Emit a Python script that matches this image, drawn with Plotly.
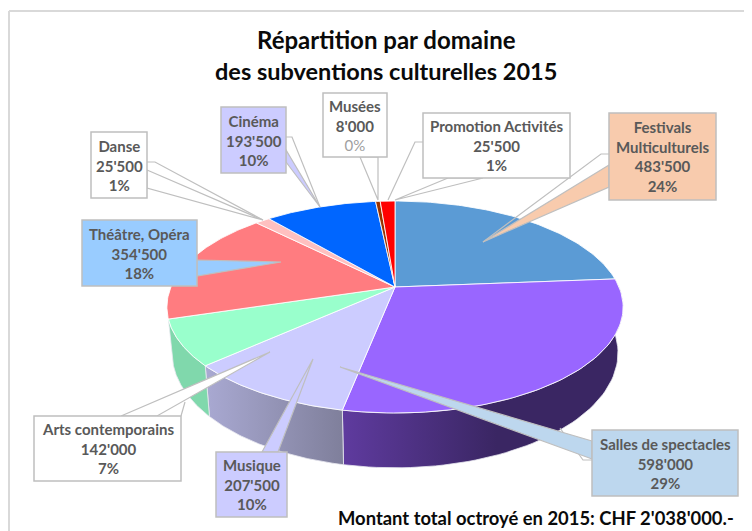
import numpy as np
import plotly.graph_objects as go

# ---- data ----
categories = ["Festivals<br>Multiculturels", "Salles de spectacles", "Musique", "Arts contemporains",
              "Théâtre, Opéra", "Danse", "Cinéma", "Musées", "Promotion Activités"]
values = [483500, 598000, 207500, 142000, 354500, 25500, 193500, 8000, 25500]
value_labels = ["483'500", "598'000", "207'500", "142'000", "354'500", "25'500", "193'500", "8'000", "25'500"]
percent_labels = ["24%", "29%", "10%", "7%", "18%", "1%", "10%", "0%", "1%"]
title_lines = ["Répartition par domaine", "des subventions culturelles 2015"]
footer = "Montant total octroyé en 2015: CHF 2'038'000.-"

# ---- styles ----
top_colors = ["#5b9bd5", "#9966ff", "#ccccff", "#99ffcc", "#ff7c80", "#ffc0c0", "#0066ff", "#993300", "#ff0000"]
side_scales = {1: [[0, "#5f3b9f"], [0.55, "#3a2663"], [1, "#3a2663"]],
               2: [[0, "#a9a9d2"], [1, "#7f7f9b"]],
               3: [[0, "#80d8ac"], [1, "#80d8ac"]]}
box_fill = ["#f8cbad", "#bdd7ee", "#ccccff", "#ffffff", "#99ccff", "#ffffff", "#ccccff", "#ffffff", "#ffffff"]
EDGE = "#bfbfbf"
TXT = "#595959"
FONT = "Lato"

# ---- perspective of the pie ----
CX, CY, R, S, K = 395, 287, 224, 102.2, 0.1887
R2, CY2, S2 = 219, 331, 111


def rim(theta_deg, lower=False):
    t = np.radians(theta_deg)
    u, v = np.sin(t), np.cos(t)
    d = 1 + K * v
    if lower:
        return CX + R2 * u / d, CY2 - S2 * v / d
    return CX + R * u / d, CY - S * v / d


cum = np.cumsum([0] + values) / sum(values) * 360
fig = go.Figure()

# sides (only the front slices show)
for i, scale in side_scales.items():
    th = np.linspace(cum[i], cum[i + 1], 60)
    xt, yt = rim(th)
    xb, yb = rim(th[::-1], lower=True)
    fig.add_trace(go.Scatter(
        x=np.r_[xt, xb, xt[0]], y=np.r_[yt, yb, yt[0]], mode="lines", fill="toself",
        line=dict(color="#e8e8f0", width=0.8),
        fillgradient=dict(type="horizontal", colorscale=scale),
        hoverinfo="skip", showlegend=False))

# top surface
for i, c in enumerate(top_colors):
    th = np.linspace(cum[i], cum[i + 1], 80)
    xt, yt = rim(th)
    fig.add_trace(go.Scatter(
        x=np.r_[CX, xt, CX], y=np.r_[CY, yt, CY], mode="lines", fill="toself", fillcolor=c,
        line=dict(color="rgba(255,255,255,0.85)", width=1),
        hoverinfo="skip", showlegend=False))

# ---- call-outs: box (x0,y0,x1,y1), wedge points, elbow line points, per category ----
callouts = [
    ((609, 113, 716, 200), [(609, 165), (483, 242), (609, 187)], [(609, 154), (601, 154), (483, 242)]),
    ((592, 430, 738, 496), [(592, 441), (340, 367), (592, 459)], [(592, 460), (583, 460), (560, 428)]),
    ((216, 452, 287, 517), [(262, 452), (313, 359), (278, 452)], []),
    ((34, 416, 181, 481), [(121, 416), (270, 352), (157, 416)], [(181, 416), (185, 402)]),
    ((82, 220, 197, 286), [(197, 260), (281, 262), (197, 276)], []),
    ((91, 132, 147, 198), [(147, 170), (263, 220), (147, 188)], [(147, 162), (155, 162), (263, 220)]),
    ((221, 107, 286, 173), [(286, 162), (320, 207), (286, 150)], [(286, 137), (292, 137), (320, 207)]),
    ((323, 93, 387, 157), [(360, 157), (378, 200), (378, 157)], []),
    ((423, 113, 570, 178), [(448, 178), (395, 200), (483, 178)], [(423, 142), (415, 142), (388, 200)]),
]
shapes = [
    dict(type="line", xref="x", yref="y", x0=9, x1=9, y0=11, y1=531, line=dict(color="#d9d9d9", width=2), layer="below"),
    dict(type="line", xref="x", yref="y", x0=9, x1=752, y0=11, y1=11, line=dict(color="#d9d9d9", width=2), layer="below"),
]
annotations = []


def path(pts, close=False):
    return "M " + " L ".join(f"{a} {b}" for a, b in pts) + (" Z" if close else "")


for i, (box, wedge, elbow) in enumerate(callouts):
    if elbow:
        shapes.append(dict(type="path", xref="x", yref="y", path=path(elbow), line=dict(color=EDGE, width=1.2)))
    shapes.append(dict(type="path", xref="x", yref="y", path=path(wedge, True), fillcolor=box_fill[i],
                       line=dict(color=EDGE, width=1.2)))
    shapes.append(dict(type="rect", xref="x", yref="y", x0=box[0], y0=box[1], x1=box[2], y1=box[3],
                       fillcolor=box_fill[i], line=dict(color=EDGE, width=1.5)))
    pct = percent_labels[i]
    pct_html = f"<span style='font-weight:normal;color:#a0a0a0'>{pct}</span>" if values[i] < 10000 else pct
    annotations.append(dict(
        x=(box[0] + box[2]) / 2, y=(box[1] + box[3]) / 2, xref="x", yref="y", showarrow=False,
        text=f"<b>{categories[i]}<br>{value_labels[i]}<br>{pct_html}</b>", align="center",
        font=dict(family=FONT, size=15, color=TXT)))

for txt, y, sz in zip(title_lines, (39.5, 70.5), (24, 23.5)):
    annotations.append(dict(x=386, y=y, xref="x", yref="y", showarrow=False, text=f"<b>{txt}</b>",
                            font=dict(family=FONT, size=sz, color="#0a0a0a")))
annotations.append(dict(x=536, y=518, xref="x", yref="y", showarrow=False, text=f"<b>{footer}</b>",
                        font=dict(family=FONT, size=18.4, color="#0a0a0a")))

# The page has an 8 px body margin: the axes cover window pixels 8..752 and 8..531
fig.update_layout(
    width=744, height=523, margin=dict(l=0, r=0, t=0, b=0), paper_bgcolor="white", plot_bgcolor="white",
    xaxis=dict(range=[8, 752], visible=False, fixedrange=True),
    yaxis=dict(range=[531, 8], visible=False, fixedrange=True),
    shapes=shapes, annotations=annotations, showlegend=False)
fig.write_html("out.html", config=dict(displayModeBar=False))
